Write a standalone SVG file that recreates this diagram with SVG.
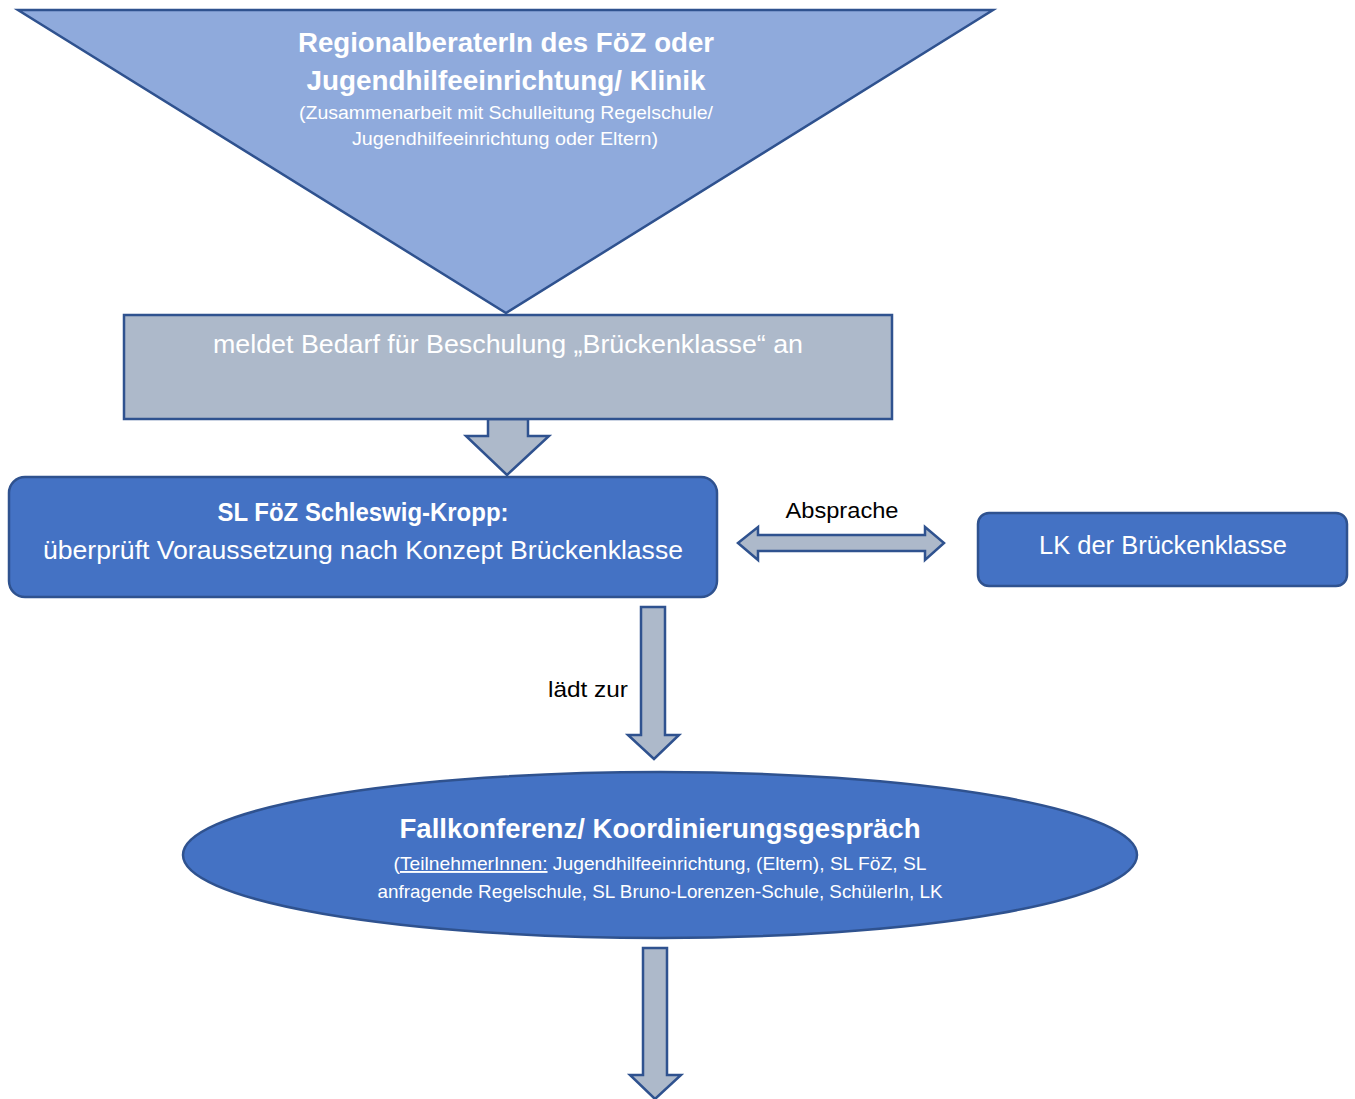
<svg xmlns="http://www.w3.org/2000/svg" width="1355" height="1099" viewBox="0 0 1355 1099">
<style>
.t{font-family:"Liberation Sans",Arial,sans-serif;fill:#fff;text-anchor:middle}
.b{font-weight:bold}
.k{fill:#000}
.blue{fill:#4472C4;stroke:#2F528F;stroke-width:2.5}
.grey{fill:#ADB9CA;stroke:#2F528F;stroke-width:2.5}
.lblue{fill:#8FAADC;stroke:#2F528F;stroke-width:2.5}
</style>
<rect width="1355" height="1099" fill="#fff"/>
<g id="connectors">
<polygon class="grey" points="488,419 528,419 528,436 549,436 507,475 466,436 488,436"/>
<polygon class="grey" points="738,543 758,527 758,535 925,535 925,527 944,543 925,560 925,551 758,551 758,560"/>
<polygon class="grey" points="641,607 665,607 665,735 679,735 654,759 628,735 641,735"/>
<polygon class="grey" points="643,948 667,948 667,1075 681,1075 655,1099 630,1075 643,1075"/>
<text class="t k" x="842" y="518" font-size="22" textLength="113" lengthAdjust="spacingAndGlyphs">Absprache</text>
<text class="t k" x="588" y="697" font-size="22" textLength="80" lengthAdjust="spacingAndGlyphs">lädt zur</text>
</g>
<g id="node-regional">
<polygon class="lblue" points="18,10 993,10 506,313"/>
<text class="t b" x="506" y="52" font-size="27" textLength="416" lengthAdjust="spacingAndGlyphs">RegionalberaterIn des FöZ oder</text>
<text class="t b" x="506" y="90" font-size="27" textLength="399" lengthAdjust="spacingAndGlyphs">Jugendhilfeeinrichtung/ Klinik</text>
<text class="t" x="506" y="119" font-size="18" textLength="414" lengthAdjust="spacingAndGlyphs">(Zusammenarbeit mit Schulleitung Regelschule/</text>
<text class="t" x="505" y="145" font-size="18" textLength="306" lengthAdjust="spacingAndGlyphs">Jugendhilfeeinrichtung oder Eltern)</text>
</g>
<g id="node-meldet">
<rect class="grey" x="124" y="315" width="768" height="104"/>
<text class="t" x="508" y="353" font-size="25" textLength="590" lengthAdjust="spacingAndGlyphs" fill="#F2F2F2">meldet Bedarf für Beschulung „Brückenklasse“ an</text>
</g>
<g id="node-sl">
<rect class="blue" x="9" y="477" width="708" height="120" rx="16"/>
<text class="t b" x="363" y="521" font-size="25" textLength="291" lengthAdjust="spacingAndGlyphs">SL FöZ Schleswig-Kropp:</text>
<text class="t" x="363" y="559" font-size="25" textLength="640" lengthAdjust="spacingAndGlyphs">überprüft Voraussetzung nach Konzept Brückenklasse</text>
</g>
<g id="node-lk">
<rect class="blue" x="978" y="513" width="369" height="73" rx="11"/>
<text class="t" x="1163" y="554" font-size="25" textLength="248" lengthAdjust="spacingAndGlyphs">LK der Brückenklasse</text>
</g>
<g id="node-fallkonferenz">
<ellipse class="blue" cx="660" cy="855" rx="477" ry="83"/>
<text class="t b" x="660" y="838" font-size="28" textLength="521" lengthAdjust="spacingAndGlyphs">Fallkonferenz/ Koordinierungsgespräch</text>
<text class="t" x="660" y="870" font-size="19" textLength="533" lengthAdjust="spacingAndGlyphs">(<tspan text-decoration="underline">TeilnehmerInnen:</tspan> Jugendhilfeeinrichtung, (Eltern), SL FöZ, SL</text>
<text class="t" x="660" y="898" font-size="19" textLength="565" lengthAdjust="spacingAndGlyphs">anfragende Regelschule, SL Bruno-Lorenzen-Schule, SchülerIn, LK</text>
</g>
</svg>
